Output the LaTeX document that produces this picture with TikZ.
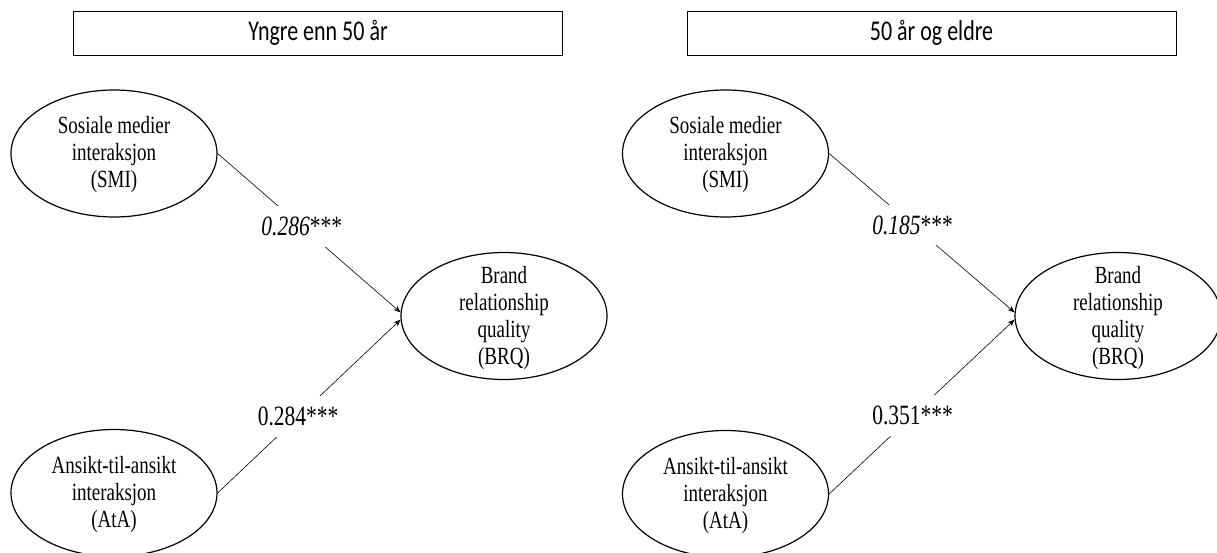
\documentclass[tikz,border=0pt]{standalone}
\usepackage{fontspec}
\setmainfont{Liberation Serif}
\newfontfamily\calibri{Carlito}
\usetikzlibrary{shapes.geometric,arrows.meta}
\begin{document}
\begin{tikzpicture}[x=1pt,y=-1pt,
  ell/.style={draw, ellipse, line width=1.2pt, minimum width=206pt, minimum height=127pt, inner sep=0pt},
  etext/.style={align=center, font=\fontsize{19}{20.8}\selectfont, yscale=1.3, inner sep=0pt},
  titlebox/.style={draw, line width=0.9pt, minimum width=489pt, minimum height=44pt, inner sep=0pt},
  ttext/.style={font=\calibri\fontsize{22}{26}\selectfont, yscale=1.3, inner sep=0pt},
  coef/.style={fill=white, font=\fontsize{21.5}{24}\selectfont, yscale=1.3, inner sep=2pt, minimum height=31.5pt},
  conn/.style={line width=0.6pt, -{Stealth[length=7pt,width=5.5pt]}}
]
\useasboundingbox (0,0) rectangle (1217,553);
\clip (0,0) rectangle (1217,553);

% titles
\node[titlebox] (tL) at (318,33) {};
\node[ttext] (tLt) at (tL.center) {Yngre enn 50 år};
\node[titlebox] (tR) at (931.5,33) {};
\node[ttext] (tRt) at (tR.center) {50 år og eldre};

% left panel
\node[ell] (smiL) at (114,153.5) {};
\node[etext] (smiLt) at (114,155) {Sosiale medier\\interaksjon\\(SMI)};
\node[ell] (ataL) at (114,493) {};
\node[etext] (ataLt) at (114,495) {Ansikt-til-ansikt\\interaksjon\\(AtA)};
\node[ell] (brqL) at (504,316) {};
\node[etext] (brqLt) at (504,318) {Brand\\relationship\\quality\\(BRQ)};

\draw[conn] (smiL.east) -- node[coef, pos=0.46] (cL1) {\itshape 0.286\upshape***} (brqL.178);
\draw[conn] (ataL.east) -- node[coef, pos=0.44] (cL2) {0.284***} (brqL.182);

% right panel
\node[ell] (smiR) at (725.5,153.5) {};
\node[etext] (smiRt) at (725.5,155) {Sosiale medier\\interaksjon\\(SMI)};
\node[ell] (ataR) at (725.5,494) {};
\node[etext] (ataRt) at (725.5,496) {Ansikt-til-ansikt\\interaksjon\\(AtA)};
\node[ell] (brqR) at (1118,316) {};
\node[etext] (brqRt) at (1118,318) {Brand\\relationship\\quality\\(BRQ)};

\draw[conn] (smiR.east) -- node[coef, pos=0.45] (cR1) {\itshape 0.185\upshape***} (brqR.178);
\draw[conn] (ataR.east) -- node[coef, pos=0.45] (cR2) {0.351***} (brqR.182);
\end{tikzpicture}
\end{document}
